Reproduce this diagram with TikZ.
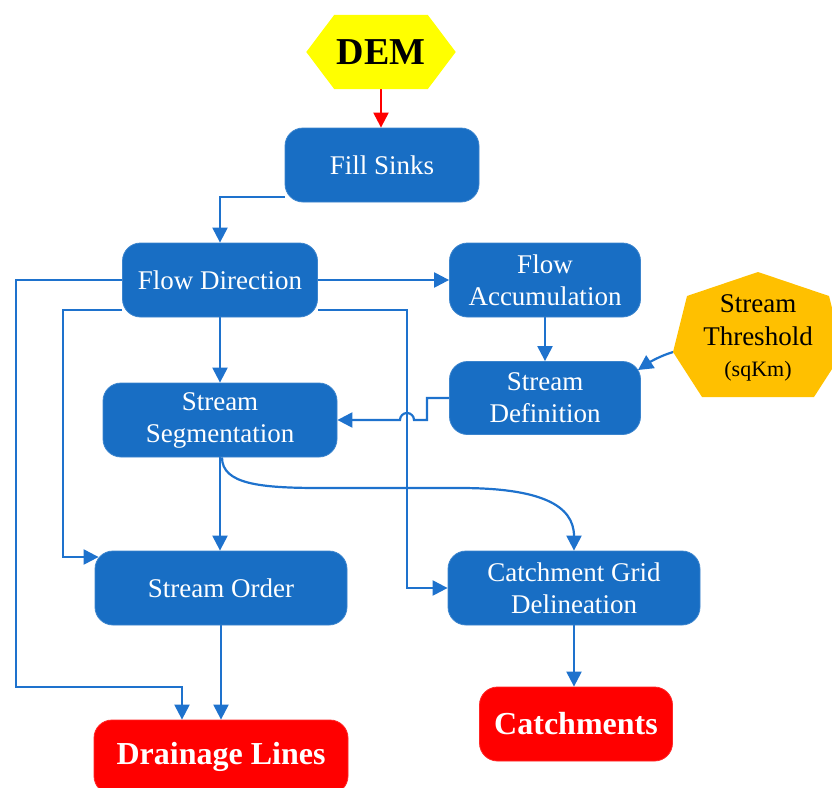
\documentclass[tikz,border=0pt]{standalone}
\usepackage{fontspec}
\setmainfont{Liberation Serif}
\usetikzlibrary{arrows.meta,backgrounds}

\definecolor{procblue}{RGB}{24,110,196}
\definecolor{linkblue}{RGB}{30,114,205}
\definecolor{outred}{RGB}{255,0,0}
\definecolor{demyellow}{RGB}{255,255,0}
\definecolor{throrange}{RGB}{255,192,0}

\tikzset{
  process/.style={draw=procblue!85!white, line width=0.8pt, fill=procblue,
    rounded corners=18pt, text=white, align=center,
    font=\fontsize{27}{32}\selectfont, minimum height=74pt, inner sep=0pt},
  output/.style={draw=outred!85!white, line width=0.8pt, fill=outred,
    rounded corners=18pt, text=white, align=center,
    font=\fontsize{32}{36}\selectfont\bfseries, minimum height=74pt, inner sep=0pt},
  conn/.style={draw=linkblue, line width=2.2pt,
    -{Triangle[length=15pt,width=15pt]}},
}

\begin{document}
\begin{tikzpicture}[x=1pt,y=-1pt]
\useasboundingbox (0,0) rectangle (832,787);

% input: DEM hexagon
\node[minimum width=149pt, minimum height=74pt, inner sep=0pt] (dem) at (381,52) {};
\fill[demyellow] (dem.west) -- ([xshift=28pt]dem.north west) -- ([xshift=-28pt]dem.north east)
  -- (dem.east) -- ([xshift=-28pt]dem.south east) -- ([xshift=28pt]dem.south west) -- cycle;
\node[font=\fontsize{38}{40}\selectfont\bfseries] (demlabel) at (dem.center) {DEM};

% threshold heptagon
\fill[throrange] (758,272) -- (829,296) -- (843,352) -- (814,397) -- (702,397) -- (673,352) -- (687,296) -- cycle;
\coordinate (thrtip) at (673,352);
\node[align=center, font=\fontsize{27}{33}\selectfont] (thr) at (758,338)
  {Stream\\Threshold\\[-2pt]{\fontsize{22}{26}\selectfont (sqKm)}};

% processing steps
\node[process, minimum width=194pt] (fill) at (382,165) {Fill Sinks};
\node[process, minimum width=195pt] (fdir) at (220,280) {Flow Direction};
\node[process, minimum width=191pt] (facc) at (545,280) {Flow\\Accumulation};
\node[process, minimum width=191pt, minimum height=73pt] (sdef) at (545,398) {Stream\\Definition};
\node[process, minimum width=234pt] (sseg) at (220,420) {Stream\\Segmentation};
\node[process, minimum width=252pt] (sord) at (221,588) {Stream Order};
\node[process, minimum width=252pt] (cgrid) at (574,588) {Catchment Grid\\Delineation};

% results
\node[output, minimum width=254pt] (drain) at (221,757) {Drainage Lines};
\node[output, minimum width=193pt] (catch) at (576,724) {Catchments};

% helper points for the routed links
\coordinate (drainbend) at (182,687);
\coordinate (thrend) at (638,370);

\begin{pgfonlayer}{background}
  % DEM into Fill Sinks
  \draw[line width=2.2pt, draw=outred, -{Triangle[length=15pt,width=15pt]}]
    (dem.south) -- (dem.south |- fill.north);
  % Fill Sinks to Flow Direction
  \draw[conn] ([yshift=-32pt]fill.west) -| (fdir.north);
  % Flow Direction to Flow Accumulation
  \draw[conn] (fdir.east) -- (facc.west);
  % Flow Accumulation to Stream Definition
  \draw[conn] (facc.south) -- (sdef.north);
  % threshold into Stream Definition
  \draw[conn] (thrtip) .. controls (660,356) and (650,362) .. (thrend);
  % Flow Direction to Stream Segmentation
  \draw[conn] (fdir.south) -- (fdir.south |- sseg.north);
  % Stream Definition to Stream Segmentation, hopping over the crossing line
  \draw[conn] (sdef.west) -- (427,398) -- (427,420) -- (414,420)
    arc[start angle=0, end angle=-180, radius=7] -- (sseg.east);
  % Flow Direction to Catchment Grid Delineation
  \draw[conn] ([yshift=-30pt]fdir.east) -| ([xshift=-41pt]cgrid.west) -- (cgrid.west);
  % Flow Direction to Stream Order
  \draw[conn] ([yshift=-30pt]fdir.west) -- (63,310) |- ([xshift=4pt,yshift=31pt]sord.west);
  % Flow Direction to Drainage Lines
  \draw[conn] (fdir.west) -- (16,280) |- (drainbend) -- (drainbend |- drain.north);
  % Stream Segmentation to Stream Order
  \draw[conn] (sseg.south) -- (sseg.south |- sord.north);
  % Stream Segmentation to Catchment Grid Delineation
  \draw[conn] ([xshift=2pt]sseg.south) .. controls (222,484) and (260,488) .. (320,488)
    -- (460,488) .. controls (540,488) and (574,505) .. (cgrid.north);
  % Stream Order to Drainage Lines
  \draw[conn] (sord.south) -- (drain.north);
  % Catchment Grid Delineation to Catchments
  \draw[conn] (cgrid.south) -- (cgrid.south |- catch.north);
\end{pgfonlayer}
\end{tikzpicture}
\end{document}
